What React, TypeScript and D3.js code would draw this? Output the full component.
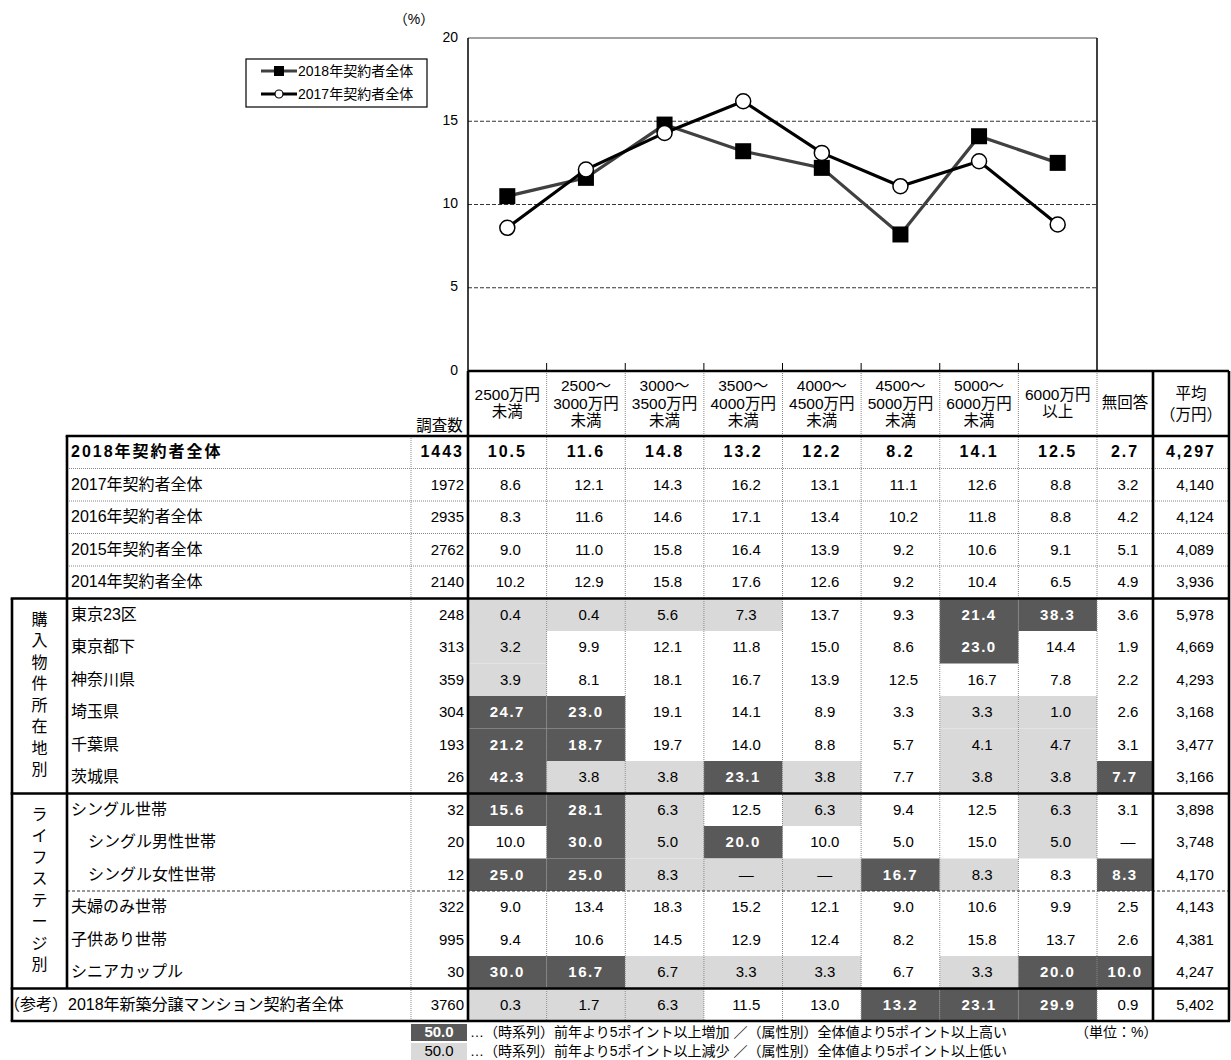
import React from 'react';
import * as d3 from 'd3';

// price bands (column headers of the table and x categories of the chart)
const priceBands = [
    '2500万円未満',
    '2500～3000万円未満',
    '3000～3500万円未満',
    '3500～4000万円未満',
    '4000～4500万円未満',
    '4500～5000万円未満',
    '5000～6000万円未満',
    '6000万円以上'
];
const headerLines = [
    ['2500万円', '未満'],
    ['2500～', '3000万円', '未満'],
    ['3000～', '3500万円', '未満'],
    ['3500～', '4000万円', '未満'],
    ['4000～', '4500万円', '未満'],
    ['4500～', '5000万円', '未満'],
    ['5000～', '6000万円', '未満'],
    ['6000万円', '以上']
];
const yTicks = [0, 5, 10, 15, 20];
const seriesNames = ['2018年契約者全体', '2017年契約者全体'];

const rowLabels = [
    '2018年契約者全体',
    '2017年契約者全体',
    '2016年契約者全体',
    '2015年契約者全体',
    '2014年契約者全体',
    '東京23区',
    '東京都下',
    '神奈川県',
    '埼玉県',
    '千葉県',
    '茨城県',
    'シングル世帯',
    'シングル男性世帯',
    'シングル女性世帯',
    '夫婦のみ世帯',
    '子供あり世帯',
    'シニアカップル',
    '（参考）2018年新築分譲マンション契約者全体'
];
const indentedRows = ['シングル男性世帯', 'シングル女性世帯'];
const groupLabels = ['購入物件所在地別', 'ライフステージ別'];

const sampleSizes = [1443, 1972, 2935, 2762, 2140, 248, 313, 359, 304, 193, 26, 32, 20, 12, 322, 995, 30, 3760];

const shares = [
    [10.5, 11.6, 14.8, 13.2, 12.2, 8.2, 14.1, 12.5],
    [8.6, 12.1, 14.3, 16.2, 13.1, 11.1, 12.6, 8.8],
    [8.3, 11.6, 14.6, 17.1, 13.4, 10.2, 11.8, 8.8],
    [9.0, 11.0, 15.8, 16.4, 13.9, 9.2, 10.6, 9.1],
    [10.2, 12.9, 15.8, 17.6, 12.6, 9.2, 10.4, 6.5],
    [0.4, 0.4, 5.6, 7.3, 13.7, 9.3, 21.4, 38.3],
    [3.2, 9.9, 12.1, 11.8, 15.0, 8.6, 23.0, 14.4],
    [3.9, 8.1, 18.1, 16.7, 13.9, 12.5, 16.7, 7.8],
    [24.7, 23.0, 19.1, 14.1, 8.9, 3.3, 3.3, 1.0],
    [21.2, 18.7, 19.7, 14.0, 8.8, 5.7, 4.1, 4.7],
    [42.3, 3.8, 3.8, 23.1, 3.8, 7.7, 3.8, 3.8],
    [15.6, 28.1, 6.3, 12.5, 6.3, 9.4, 12.5, 6.3],
    [10.0, 30.0, 5.0, 20.0, 10.0, 5.0, 15.0, 5.0],
    [25.0, 25.0, 8.3, null, null, 16.7, 8.3, 8.3],
    [9.0, 13.4, 18.3, 15.2, 12.1, 9.0, 10.6, 9.9],
    [9.4, 10.6, 14.5, 12.9, 12.4, 8.2, 15.8, 13.7],
    [30.0, 16.7, 6.7, 3.3, 3.3, 6.7, 3.3, 20.0],
    [0.3, 1.7, 6.3, 11.5, 13.0, 13.2, 23.1, 29.9]
];
const noAnswer = [2.7, 3.2, 4.2, 5.1, 4.9, 3.6, 1.9, 2.2, 2.6, 3.1, 7.7, 3.1, null, 8.3, 2.5, 2.6, 10.0, 0.9];
const averages = [4297, 4140, 4124, 4089, 3936, 5978, 4669, 4293, 3168, 3477, 3166, 3898, 3748, 4170, 4143, 4381, 4247, 5402];

// D = 5pt以上高い/増加, L = 5pt以上低い/減少 (8 price bands + 無回答)
const highlights = [
    '.........',
    '.........',
    '.........',
    '.........',
    '.........',
    'LLLL..DD.',
    'L.....D..',
    'L........',
    'DD....LL.',
    'DD....LL.',
    'DLLDL.LLD',
    'DDL.L..L.',
    '.DLD...L.',
    'DDLLLDL.D',
    '.........',
    '.........',
    'DDLLL.LDD',
    'LLL..DDD.'
];

const FONT = '"Liberation Sans", Arial, "Noto Sans CJK JP", sans-serif';
const DARK = '#595959';
const LIGHT = '#d9d9d9';

export default function App() {
    const width = 1231;
    const height = 1060;

    const x = d3.scaleBand().domain(priceBands).range([468, 1097]);
    const y = d3.scaleLinear().domain([0, 20]).range([371, 38]);
    const rowY = d3.scaleBand<number>().domain(d3.range(rowLabels.length)).range([436, 1021]);
    const rh = rowY.bandwidth();

    const naX = [1097, 1153];
    const avgX = [1153, 1229];
    const countX = [411, 468];
    const labelX = 67;
    const leftX = 12;

    const line = d3
        .line<number>()
        .x((d, i) => x(priceBands[i])! + x.bandwidth() / 2)
        .y((d) => y(d));

    const s2018 = shares[0];
    const s2017 = shares[1];
    const fmt1 = d3.format('.1f');
    const fmtAvg = d3.format(',');

    const thick = { stroke: '#000', strokeWidth: 2.6 };
    const dotted = { stroke: '#888', strokeWidth: 1, strokeDasharray: '1,1' };

    const cellText = (row: number, v: number | null, cx: number, code: string, key: string) => {
        const bold = row === 0 || code === 'D';
        return (
            <text
                key={key}
                x={cx + (bold ? 0 : 3)}
                y={rowY(row)! + rh / 2 + 1}
                textAnchor="middle"
                dominantBaseline="middle"
                fontSize={row === 0 ? 16 : 15}
                fontWeight={bold ? 'bold' : 'normal'}
                letterSpacing={row === 0 ? 2 : code === 'D' ? 1.5 : 0}
                fill={code === 'D' ? '#fff' : '#000'}
            >
                {v === null ? '—' : fmt1(v)}
            </text>
        );
    };

    const lastRow = rowLabels.length - 1;

    return (
        <div style={{ position: 'absolute', left: 0, top: 0 }}>
            <svg width={width} height={height} fontFamily={FONT} style={{ display: 'block', background: '#fff' }}>
                {/* chart */}
                <text x={414} y={24} fontSize={14} textAnchor="middle">（%）</text>
                {yTicks.map((t) => (
                    <text key={t} x={458} y={y(t)} fontSize={14} textAnchor="end" dominantBaseline="middle">
                        {t}
                    </text>
                ))}
                {yTicks.filter((t) => t > 0 && t < 20).map((t) => (
                    <line key={t} x1={468} x2={1097} y1={y(t)} y2={y(t)} stroke="#333" strokeDasharray="4,2" />
                ))}
                <line x1={468} x2={1097} y1={y(20)} y2={y(20)} stroke="#444" strokeWidth={1} />
                <line x1={468} x2={468} y1={y(20)} y2={y(0)} stroke="#000" strokeWidth={1.5} />
                <line x1={1097} x2={1097} y1={y(20)} y2={y(0)} stroke="#000" strokeWidth={1.5} />
                {priceBands.slice(1).map((b) => (
                    <line key={b} x1={x(b)} x2={x(b)} y1={y(0) - 8} y2={y(0)} stroke="#000" />
                ))}

                <path d={line(s2018 as number[])!} fill="none" stroke="#404040" strokeWidth={3.2} />
                <path d={line(s2017 as number[])!} fill="none" stroke="#000" strokeWidth={3.2} />
                {(s2018 as number[]).map((v, i) => (
                    <rect
                        key={i}
                        x={x(priceBands[i])! + x.bandwidth() / 2 - 8}
                        y={y(v) - 8}
                        width={16}
                        height={16}
                        fill="#000"
                    />
                ))}
                {(s2017 as number[]).map((v, i) => (
                    <circle
                        key={i}
                        cx={x(priceBands[i])! + x.bandwidth() / 2}
                        cy={y(v)}
                        r={7.5}
                        fill="#fff"
                        stroke="#000"
                        strokeWidth={1.5}
                    />
                ))}

                {/* legend */}
                <rect x={246} y={59} width={181} height={48} fill="#fff" stroke="#000" strokeWidth={1.2} />
                {seriesNames.map((name, i) => {
                    const ly = 71 + i * 23;
                    return (
                        <g key={name}>
                            <line x1={261} x2={297} y1={ly} y2={ly} stroke={i === 0 ? '#404040' : '#000'} strokeWidth={3.2} />
                            {i === 0 ? (
                                <rect x={274} y={ly - 5} width={10} height={10} fill="#000" />
                            ) : (
                                <circle cx={279} cy={ly} r={4} fill="#fff" stroke="#000" strokeWidth={1.2} />
                            )}
                            <text x={298} y={ly + 1} fontSize={14} dominantBaseline="middle">
                                {name}
                            </text>
                        </g>
                    );
                })}

                {/* table cell fills */}
                {rowLabels.map((r, ri) =>
                    highlights[ri].split('').map((c, ci) => {
                        if (c === '.') return null;
                        const x0 = ci < 8 ? x(priceBands[ci])! : naX[0];
                        const w = ci < 8 ? x.bandwidth() : naX[1] - naX[0];
                        return (
                            <rect
                                key={`${ri}-${ci}`}
                                x={x0}
                                y={rowY(ri)}
                                width={w}
                                height={rh}
                                fill={c === 'D' ? DARK : LIGHT}
                            />
                        );
                    })
                )}

                {/* header */}
                {headerLines.map((lines, i) => {
                    const cx = x(priceBands[i])! + x.bandwidth() / 2;
                    const cy = 371 + 65 / 2;
                    const lh = 17.5;
                    return (
                        <text key={i} fontSize={15.5} textAnchor="middle">
                            {lines.map((t, j) => (
                                <tspan key={j} x={cx} y={cy + (j - (lines.length - 1) / 2) * lh + 5}>
                                    {t}
                                </tspan>
                            ))}
                        </text>
                    );
                })}
                <text x={(naX[0] + naX[1]) / 2} y={408} fontSize={15.5} textAnchor="middle">
                    無回答
                </text>
                <text fontSize={15.5} textAnchor="middle">
                    <tspan x={(avgX[0] + avgX[1]) / 2} y={399}>平均</tspan>
                    <tspan x={(avgX[0] + avgX[1]) / 2} y={420}>（万円）</tspan>
                </text>
                <text x={(countX[0] + countX[1]) / 2} y={431} fontSize={15.5} textAnchor="middle">
                    調査数
                </text>

                {/* rows */}
                {rowLabels.map((label, ri) => {
                    const cy = rowY(ri)! + rh / 2 + 1;
                    const bold = ri === 0;
                    const lx = ri === lastRow ? 4 : indentedRows.includes(label) ? 88 : 71;
                    return (
                        <g key={label}>
                            <text
                                x={lx}
                                y={cy}
                                fontSize={16}
                                fontWeight={bold ? 'bold' : 'normal'}
                                letterSpacing={bold ? 2 : 0}
                                dominantBaseline="middle"
                            >
                                {label}
                            </text>
                            <text
                                x={countX[1] - 4}
                                y={cy}
                                fontSize={bold ? 16 : 15}
                                fontWeight={bold ? 'bold' : 'normal'}
                                letterSpacing={bold ? 2 : 0}
                                textAnchor="end"
                                dominantBaseline="middle"
                            >
                                {sampleSizes[ri]}
                            </text>
                            {shares[ri].map((v, ci) =>
                                cellText(ri, v, x(priceBands[ci])! + x.bandwidth() / 2, highlights[ri][ci], `v${ci}`)
                            )}
                            {cellText(ri, noAnswer[ri], (naX[0] + naX[1]) / 2, highlights[ri][8], 'na')}
                            <text
                                x={(avgX[0] + avgX[1]) / 2 + (bold ? 0 : 4)}
                                y={cy}
                                fontSize={bold ? 16 : 15}
                                fontWeight={bold ? 'bold' : 'normal'}
                                letterSpacing={bold ? 2 : 0}
                                textAnchor="middle"
                                dominantBaseline="middle"
                            >
                                {fmtAvg(averages[ri])}
                            </text>
                        </g>
                    );
                })}

                {/* group labels (vertical) */}
                {groupLabels.map((g, gi) => {
                    const top = rowY(gi === 0 ? 5 : 11)!;
                    const bottom = rowY(gi === 0 ? 11 : 17)!;
                    const mid = (top + bottom) / 2;
                    const chars = g.split('');
                    return chars.map((ch, k) => (
                        <text
                            key={`${gi}-${k}`}
                            x={(leftX + labelX) / 2}
                            y={mid + (k - (chars.length - 1) / 2) * 21.5}
                            fontSize={16}
                            textAnchor="middle"
                            dominantBaseline="middle"
                        >
                            {ch}
                        </text>
                    ));
                })}

                {/* table grid: dotted verticals */}
                <line x1={countX[0]} x2={countX[0]} y1={436} y2={1021} {...dotted} />
                {priceBands.slice(1).map((b) => (
                    <line key={b} x1={x(b)} x2={x(b)} y1={371} y2={1021} {...dotted} />
                ))}
                <line x1={naX[0]} x2={naX[0]} y1={371} y2={1021} {...dotted} />

                {/* horizontal dotted / dashed */}
                {[1, 2, 3, 4].map((ri) => (
                    <line key={ri} x1={labelX} x2={1229} y1={rowY(ri)} y2={rowY(ri)} {...dotted} />
                ))}
                <line x1={labelX} x2={1229} y1={rowY(14)} y2={rowY(14)} stroke="#333" strokeDasharray="3,2" />

                {/* thick lines */}
                <line x1={468} x2={1229} y1={371} y2={371} {...thick} />
                <line x1={labelX - 1.3} x2={1230} y1={436} y2={436} {...thick} />
                {[5, 11, 17].map((ri) => (
                    <line key={ri} x1={leftX - 1.3} x2={1230} y1={rowY(ri)} y2={rowY(ri)} {...thick} />
                ))}
                <line x1={leftX - 1.3} x2={1230} y1={1021} y2={1021} {...thick} />
                <line x1={leftX} x2={leftX} y1={rowY(5)} y2={1021} {...thick} />
                <line x1={labelX} x2={labelX} y1={436} y2={rowY(17)} {...thick} />
                <line x1={countX[1]} x2={countX[1]} y1={371} y2={1021} {...thick} />
                <line x1={naX[1]} x2={naX[1]} y1={371} y2={1021} {...thick} />
                <line x1={1229} x2={1229} y1={371} y2={1021} {...thick} />

                {/* footnote */}
                <rect x={411} y={1024} width={56} height={17} fill={DARK} />
                <text x={439} y={1033} fontSize={15} fontWeight="bold" fill="#fff" textAnchor="middle" dominantBaseline="middle">
                    50.0
                </text>
                <rect x={411} y={1043} width={56} height={17} fill={LIGHT} />
                <text x={439} y={1052} fontSize={15} textAnchor="middle" dominantBaseline="middle">
                    50.0
                </text>
                <text x={470} y={1033} fontSize={14} dominantBaseline="middle">
                    …（時系列）前年より5ポイント以上増加 ／（属性別）全体値より5ポイント以上高い
                </text>
                <text x={470} y={1052} fontSize={14} dominantBaseline="middle">
                    …（時系列）前年より5ポイント以上減少 ／（属性別）全体値より5ポイント以上低い
                </text>
                <text x={1075} y={1033} fontSize={14} dominantBaseline="middle">
                    （単位：%）
                </text>
            </svg>
        </div>
    );
}
